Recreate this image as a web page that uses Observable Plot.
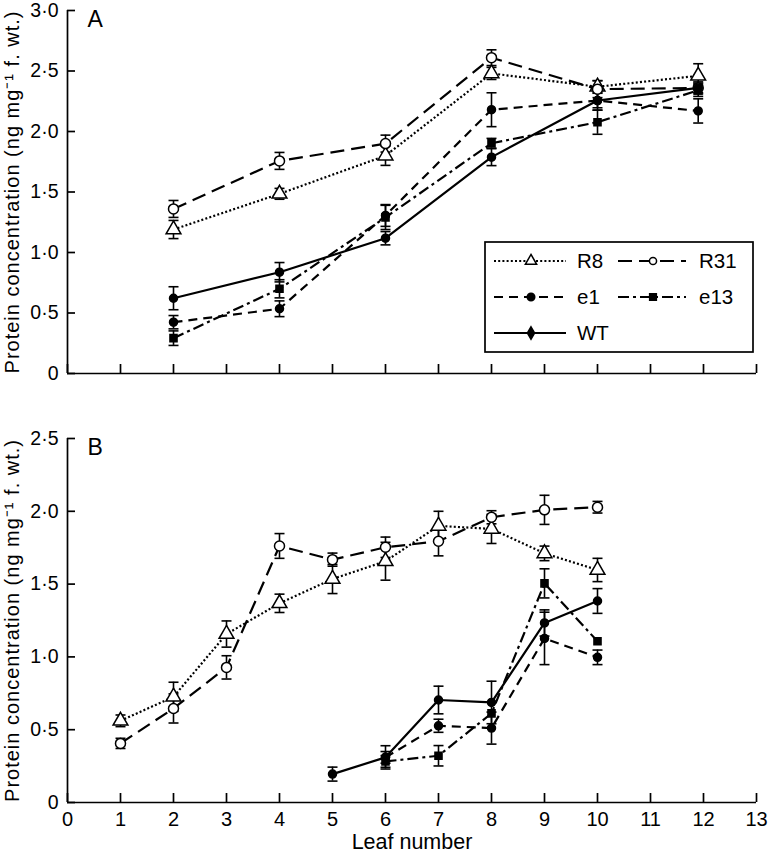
<!DOCTYPE html>
<html><head><meta charset="utf-8">
<script src="https://cdn.jsdelivr.net/npm/d3@7"></script>
<script src="https://cdn.jsdelivr.net/npm/@observablehq/plot@0.6"></script>
<style>
body{margin:0;background:#fff;}
#wrap{position:relative;width:770px;height:853px;font-family:"Liberation Sans",Arial,Helvetica,sans-serif;}
#wrap svg{position:absolute;left:0;overflow:visible;}
</style></head><body><div id="wrap"></div>
<script>
// ---------- DATA ----------
const seriesNames = ["R8", "R31", "e1", "e13", "WT"];
const xTicks = [0,1,2,3,4,5,6,7,8,9,10,11,12,13];
const xTickLabels = ["0","1","2","3","4","5","6","7","8","9","10","11","12","13"];
const yTicksA = [0, 0.5, 1, 1.5, 2, 2.5, 3];
const yTickLabelsA = ["0","0·5","1·0","1·5","2·0","2·5","3·0"];
const yTicksB = [0, 0.5, 1, 1.5, 2, 2.5];
const yTickLabelsB = ["0","0·5","1·0","1·5","2·0","2·5"];
const yTitle = "Protein concentration (ng mg⁻¹ f. wt.)";
const xTitle = "Leaf number";

// Panel A
const leafA = [2, 4, 6, 8, 10, 11.9];
const aR8   = [1.19, 1.485, 1.80, 2.48, 2.37, 2.46];
const aR8e  = [0.075, 0.045, 0.08, 0.05, 0.05, 0.10];
const aR31  = [1.36, 1.757, 1.90, 2.61, 2.35, 2.36];
const aR31e = [0.07, 0.07, 0.07, 0.065, 0.07, 0.05];
const aE1   = [0.424, 0.535, 1.306, 2.18, 2.256, 2.17];
const aE1e  = [0.055, 0.065, 0.09, 0.14, 0.06, 0.10];
const aE13  = [0.292, 0.70, 1.29, 1.903, 2.077, 2.34];
const aE13e = [0.06, 0.075, 0.10, 0.04, 0.10, 0.05];
const aWT   = [0.622, 0.837, 1.118, 1.788, 2.256, 2.36];
const aWTe  = [0.095, 0.08, 0.055, 0.07, 0.08, 0.04];

// Panel B
const leafB_R = [1,2,3,4,5,6,7,8,9,10];
const bR8   = [0.561, 0.726, 1.157, 1.368, 1.535, 1.657, 1.90, 1.879, 1.711, 1.597];
const bR8e  = [0.04, 0.10, 0.09, 0.063, 0.10, 0.13, 0.10, 0.10, 0.05, 0.08];
const bR31  = [0.406, 0.646, 0.928, 1.762, 1.668, 1.753, 1.794, 1.959, 2.01, 2.028];
const bR31e = [0.035, 0.10, 0.08, 0.085, 0.045, 0.07, 0.10, 0.045, 0.10, 0.04];
const leafB_E = [6,7,8,9,10];
const bE1   = [0.31, 0.527, 0.511, 1.127, 0.997];
const bE1e  = [0.04, 0.045, 0.11, 0.18, 0.05];
const bE13  = [0.282, 0.321, 0.612, 1.505, 1.107];
const bE13e = [0.04, 0.07, 0, 0.10, 0];
const leafB_WT = [5,6,7,8,9,10];
const bWT   = [0.195, 0.31, 0.704, 0.687, 1.233, 1.384];
const bWTe  = [0.048, 0.08, 0.095, 0.146, 0.09, 0.085];

// ---------- build tables ----------
function rowsOf(name, leaves, vals, errs) {
  return leaves.map((l, i) => ({series: name, leaf: l, v: vals[i], err: errs[i]}));
}
const rowsA = [
  ...rowsOf("R8", leafA, aR8, aR8e), ...rowsOf("R31", leafA, aR31, aR31e),
  ...rowsOf("e1", leafA, aE1, aE1e), ...rowsOf("e13", leafA, aE13, aE13e),
  ...rowsOf("WT", leafA, aWT, aWTe)
];
const rowsB = [
  ...rowsOf("R8", leafB_R, bR8, bR8e), ...rowsOf("R31", leafB_R, bR31, bR31e),
  ...rowsOf("e1", leafB_E, bE1, bE1e), ...rowsOf("e13", leafB_E, bE13, bE13e),
  ...rowsOf("WT", leafB_WT, bWT, bWTe)
];

// ---------- styles ----------
const style = {
  R8:  {dash: "2,2.2",      symbol: "triangle", fill: "white", r: 5.5, lw: 2.2},
  R31: {dash: "14,7",       symbol: "circle",   fill: "white", r: 5,   lw: 2.2},
  e1:  {dash: "9,6",        symbol: "circle",   fill: "black", r: 4,   lw: 2.2},
  e13: {dash: "11,4,3,4",   symbol: "square",   fill: "black", r: 4,   lw: 2.2},
  WT:  {dash: null,         symbol: "circle",   fill: "black", r: 4,   lw: 2.2}
};
const hcap = {draw(ctx, size) { const w = Math.sqrt(size / Math.PI); ctx.moveTo(-w, 0); ctx.lineTo(w, 0); }};

const W = 770, ML = 67, MR = 14;
const FONT = '"Liberation Sans", Arial, Helvetica, sans-serif';

function panel({rows, yMax, yTicks, yLabels, height, mt, mb, letter, showX}) {
  const innerW = W - ML - MR, innerH = height - mt - mb;
  const marks = [
    Plot.ruleX([0], {stroke: "black", strokeWidth: 1.7}),
    Plot.ruleY([0], {stroke: "black", strokeWidth: 1.7}),
    Plot.tickY(yTicks, {y: d => d, insetRight: innerW - 8, stroke: "black", strokeWidth: 1.7}),
    Plot.tickX(xTicks, {x: d => d, insetTop: innerH - 9, stroke: "black", strokeWidth: 1.7}),
    Plot.axisY({ticks: yTicks, tickFormat: d => yLabels[yTicks.indexOf(d)], tickSize: 0, tickPadding: 9, label: null, fontSize: 19.5}),
    Plot.text([yTitle], {frameAnchor: "left", dx: -55, rotate: -90, textAnchor: "middle", lineAnchor: "middle", fontSize: 20, fill: "black"}),
    Plot.text([letter], {frameAnchor: "top-left", dx: 20, dy: 0, lineAnchor: "top", textAnchor: "start", fontSize: 23, fill: "black"})
  ];
  if (showX) {
    marks.push(Plot.axisX({ticks: xTicks, tickFormat: d => xTickLabels[xTicks.indexOf(d)], tickSize: 0, tickPadding: 9, label: null, fontSize: 20}));
    marks.push(Plot.text([xTitle], {frameAnchor: "bottom", dy: 46, lineAnchor: "bottom", fontSize: 21.5, fill: "black"}));
  }
  for (const s of seriesNames) {
    const d = rows.filter(r => r.series === s);
    const st = style[s];
    marks.push(Plot.line(d, {x: "leaf", y: "v", stroke: "black", strokeWidth: st.lw, strokeLinecap: "butt", strokeLinejoin: "miter", strokeDasharray: st.dash || undefined}));
  }
  const errRows = rows.filter(r => r.err > 0);
  marks.push(Plot.ruleX(errRows, {x: "leaf", y1: d => d.v - d.err, y2: d => d.v + d.err, stroke: "black", strokeWidth: 1.6}));
  marks.push(Plot.dot(errRows, {x: "leaf", y: d => d.v + d.err, symbol: hcap, r: 5, stroke: "black", fill: "none", strokeWidth: 1.6}));
  marks.push(Plot.dot(errRows, {x: "leaf", y: d => d.v - d.err, symbol: hcap, r: 5, stroke: "black", fill: "none", strokeWidth: 1.6}));
  for (const s of seriesNames) {
    const d = rows.filter(r => r.series === s);
    const st = style[s];
    marks.push(Plot.dot(d, {x: "leaf", y: "v", symbol: st.symbol, r: st.r, fill: st.fill, stroke: "black", strokeWidth: 1.5}));
  }
  const svg = Plot.plot({
    width: W, height, marginLeft: ML, marginRight: MR, marginTop: mt, marginBottom: mb,
    x: {domain: [0, 13], axis: null},
    y: {domain: [0, yMax], axis: null},
    style: {fontFamily: FONT, fontSize: "19px", color: "black", background: "transparent", overflow: "visible"},
    marks
  });
  d3.select(svg).selectAll("text").filter(function() { return this.textContent === yTitle; })
    .style("letter-spacing", "1px");
  return svg;
}

const wrap = document.getElementById("wrap");
const svgA = panel({rows: rowsA, yMax: 3, yTicks: yTicksA, yLabels: yTickLabelsA, height: 390, mt: 10, mb: 17, letter: "A", showX: false});
svgA.style.top = "0px";
wrap.appendChild(svgA);
const svgB = panel({rows: rowsB, yMax: 2.5, yTicks: yTicksB, yLabels: yTickLabelsB, height: 463, mt: 48, mb: 51, letter: "B", showX: true});
svgB.style.top = "390px";
wrap.appendChild(svgB);

// ---------- legend (panel A) ----------
const leg = d3.select(wrap).append("svg").attr("width", W).attr("height", 390)
  .style("top", "0px").style("pointer-events", "none").style("font-family", FONT);
leg.append("rect").attr("x", 485).attr("y", 242).attr("width", 268).attr("height", 110)
  .attr("fill", "white").attr("stroke", "black").attr("stroke-width", 1.7);
const legItems = [
  {s: "R8", col: 0, row: 0}, {s: "R31", col: 1, row: 0},
  {s: "e1", col: 0, row: 1}, {s: "e13", col: 1, row: 1},
  {s: "WT", col: 0, row: 2}
];
const colX = [{x1: 494, x2: 566, m: 531, t: 577}, {x1: 618, x2: 686, m: 653, t: 699}];
const rowY = [261, 297, 333];
const legSym = {R8: d3.symbolTriangle, R31: d3.symbolCircle, e1: d3.symbolCircle, e13: d3.symbolSquare, WT: d3.symbolDiamond};
const legSize = {R8: 55, R31: 40, e1: 45, e13: 45, WT: 45};
for (const it of legItems) {
  const c = colX[it.col], y = rowY[it.row], st = style[it.s];
  leg.append("line").attr("x1", c.x1).attr("x2", c.x2).attr("y1", y).attr("y2", y)
    .attr("stroke", "black").attr("stroke-width", 2).attr("stroke-dasharray", st.dash || null);
  leg.append("path").attr("d", d3.symbol(legSym[it.s], legSize[it.s])())
    .attr("transform", `translate(${c.m},${y})`)
    .attr("fill", st.fill).attr("stroke", "black").attr("stroke-width", 1.5);
  leg.append("text").attr("x", c.t).attr("y", y).attr("dy", "0.36em")
    .attr("font-size", 20.5).attr("fill", "black").text(it.s);
}
</script></body></html>
